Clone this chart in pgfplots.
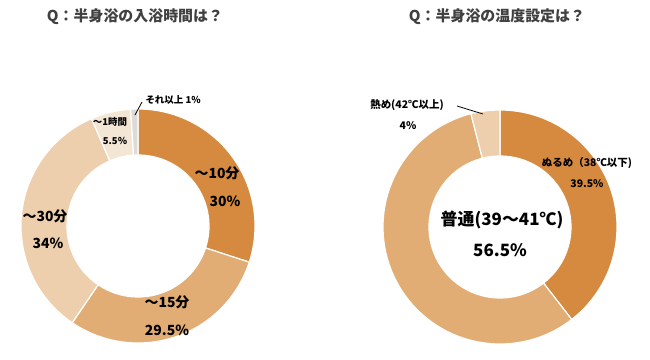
\documentclass[border=0pt]{standalone}
\usepackage{pgfplots}
\usepackage{pgfplotstable}
\pgfplotsset{compat=1.18}
\usepackage{fontspec}
\setmainfont{Noto Sans CJK JP}
\definecolor{c1}{HTML}{D58A3F}
\definecolor{c2}{HTML}{E1AD74}
\definecolor{c3}{HTML}{EDCFAD}
\definecolor{c4}{HTML}{F4E6D5}
\definecolor{c5}{HTML}{DEDAD5}
\definecolor{titlegray}{HTML}{404040}

\pgfplotstableread{
label value color
10min 30 c1
15min 29.5 c2
30min 34 c3
1h 5.5 c4
more 1 c5
}\timetable

\pgfplotstableread{
label value color
nurume 39.5 c1
futsu 56.5 c2
atsume 4 c3
}\temptable

\newcommand\donut[5]{%
  \pgfplotstablegetrowsof{#1}%
  \pgfmathtruncatemacro\N{\pgfplotsretval-1}%
  \def\cum{0}%
  \pgfplotsforeachungrouped \i in {0,...,\N}{%
    \pgfplotstablegetelem{\i}{value}\of{#1}\let\v\pgfplotsretval
    \pgfplotstablegetelem{\i}{color}\of{#1}\let\c\pgfplotsretval
    \pgfmathsetmacro\aa{90-3.6*\cum}%
    \pgfmathsetmacro\cum{\cum+\v}%
    \pgfmathsetmacro\bb{90-3.6*\cum}%
    \edef\temp{\noexpand\fill[fill=\c, draw=white, line width=1.2bp]
      ([shift={(\aa:#4bp)}]axis cs:#2,#3) arc[start angle=\aa, end angle=\bb, radius=#4bp]
      -- ([shift={(\bb:#5bp)}]axis cs:#2,#3) arc[start angle=\bb, end angle=\aa, radius=#5bp] -- cycle;}%
    \temp
  }%
}

\begin{document}
\begin{tikzpicture}
\begin{axis}[
  width=650bp, height=358bp, scale only axis,
  xmin=0, xmax=650, ymin=0, ymax=358,
  hide axis, clip=false,
]
\path (axis cs:0,0) rectangle (axis cs:650,358);
\donut{\timetable}{138}{132}{117}{71}
\donut{\temptable}{500}{131}{117}{71}

% titles
\node[font=\fontsize{15}{18}\selectfont\bfseries, text=titlegray] at (axis cs:135,341) {Q：半身浴の入浴時間は？};
\node[font=\fontsize{15}{18}\selectfont\bfseries, text=titlegray] at (axis cs:497,341) {Q：半身浴の温度設定は？};

% left labels
\begin{scope}[every node/.style={font=\fontsize{14}{16}\selectfont\bfseries, text=black}]
\node at (axis cs:217,185) {～10分};
\node at (axis cs:225,157) {30\%};
\node at (axis cs:167,56) {～15分};
\node at (axis cs:167,28) {29.5\%};
\node at (axis cs:45,142) {～30分};
\node at (axis cs:48,115) {34\%};
\end{scope}
\begin{scope}[every node/.style={font=\fontsize{9.5}{11}\selectfont\bfseries, text=black}]
\node at (axis cs:110,236) {～1時間};
\node at (axis cs:115,217) {5.5\%};
\node[anchor=west] at (axis cs:142,258) {それ以上 1\%};
\end{scope}
\draw[black, line width=0.8bp] (axis cs:135,243) -- (axis cs:142,256);

% right labels
\begin{scope}[every node/.style={font=\fontsize{10.5}{12}\selectfont\bfseries, text=black}]
\node at (axis cs:407,253) {熱め(42℃以上)};
\node at (axis cs:408,232) {4\%};
\node at (axis cs:587,195) {ぬるめ（38℃以下)};
\node at (axis cs:587,174) {39.5\%};
\end{scope}
\draw[black, line width=0.8bp] (axis cs:457,252) -- (axis cs:483,244);
\node[font=\fontsize{17}{20}\selectfont\bfseries, text=black] at (axis cs:502,138) {普通(39～41℃)};
\node[font=\fontsize{17}{20}\selectfont\bfseries, text=black] at (axis cs:500,108) {56.5\%};
\end{axis}
\end{tikzpicture}
\end{document}
